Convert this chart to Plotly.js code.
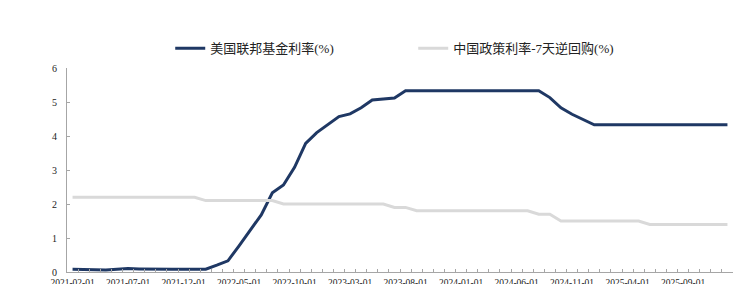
<!DOCTYPE html>
<html>
<head>
<meta charset="utf-8">
<script src="https://cdn.plot.ly/plotly-3.0.1.min.js"></script>
<style>html,body{margin:0;padding:0;background:#fff;}#chart{width:750px;height:284px;}</style>
</head>
<body>
<div id="chart"></div>
<script>
const dates = [
  '2021-02-01','2021-03-01','2021-04-01','2021-05-01','2021-06-01','2021-07-01','2021-08-01','2021-09-01','2021-10-01','2021-11-01','2021-12-01',
  '2022-01-01','2022-02-01','2022-03-01','2022-04-01','2022-05-01','2022-06-01','2022-07-01','2022-08-01','2022-09-01','2022-10-01','2022-11-01','2022-12-01',
  '2023-01-01','2023-02-01','2023-03-01','2023-04-01','2023-05-01','2023-06-01','2023-07-01','2023-08-01','2023-09-01','2023-10-01','2023-11-01','2023-12-01',
  '2024-01-01','2024-02-01','2024-03-01','2024-04-01','2024-05-01','2024-06-01','2024-07-01','2024-08-01','2024-09-01','2024-10-01','2024-11-01','2024-12-01',
  '2025-01-01','2025-02-01','2025-03-01','2025-04-01','2025-05-01','2025-06-01','2025-07-01','2025-08-01','2025-09-01','2025-10-01','2025-11-01','2025-12-01',
  '2026-01-01'
];
const fedFunds = [
  0.08,0.07,0.07,0.06,0.08,0.10,0.09,0.08,0.08,0.08,0.08,
  0.08,0.08,0.20,0.33,0.77,1.21,1.68,2.33,2.56,3.08,3.78,4.10,
  4.33,4.57,4.65,4.83,5.06,5.08,5.12,5.33,5.33,5.33,5.33,5.33,
  5.33,5.33,5.33,5.33,5.33,5.33,5.33,5.33,5.13,4.83,4.64,4.48,
  4.33,4.33,4.33,4.33,4.33,4.33,4.33,4.33,4.33,4.33,4.33,4.33,
  4.33
];
const chinaRepo = [
  2.2,2.2,2.2,2.2,2.2,2.2,2.2,2.2,2.2,2.2,2.2,
  2.2,2.1,2.1,2.1,2.1,2.1,2.1,2.1,2.0,2.0,2.0,2.0,
  2.0,2.0,2.0,2.0,2.0,2.0,1.9,1.9,1.8,1.8,1.8,1.8,
  1.8,1.8,1.8,1.8,1.8,1.8,1.8,1.7,1.7,1.5,1.5,1.5,
  1.5,1.5,1.5,1.5,1.5,1.4,1.4,1.4,1.4,1.4,1.4,1.4,
  1.4
];
const tickLabels = ['2021-02-01','2021-07-01','2021-12-01','2022-05-01','2022-10-01','2023-03-01','2023-08-01','2024-01-01','2024-06-01','2024-11-01','2025-04-01','2025-09-01'];
const seriesNames = ['美国联邦基金利率(%)','中国政策利率-7天逆回购(%)'];
const yTicks = [0,1,2,3,4,5,6];

const fontFam = '"Liberation Serif", "Times New Roman", "Noto Sans CJK SC", serif';

const traces = [
  {x: dates, y: fedFunds, name: seriesNames[0], type: 'scatter', mode: 'lines',
   line: {color: '#1f3864', width: 3}},
  {x: dates, y: chinaRepo, name: seriesNames[1], type: 'scatter', mode: 'lines',
   line: {color: '#d9d9d9', width: 3}}
];

const layout = {
  width: 750, height: 284,
  margin: {l: 67, r: 17, t: 68, b: 12},
  paper_bgcolor: '#fff', plot_bgcolor: '#fff',
  font: {family: fontFam, size: 9, color: '#222'},
  showlegend: true,
  legend: {orientation: 'h', x: 0.155, xanchor: 'left', y: 1.097, yanchor: 'middle',
           font: {family: fontFam, size: 13, color: '#222'},
           entrywidth: 198, entrywidthmode: 'pixels', bgcolor: 'rgba(0,0,0,0)'},
  xaxis: {
    type: 'category', range: [-0.5, dates.length - 0.5],
    tickmode: 'array', tickvals: dates,
    ticktext: dates.map(d => tickLabels.includes(d) ? d : ''),
    tickson: 'boundaries', ticks: 'inside', ticklen: 3, tickcolor: '#a6a6a6', tickwidth: 1,
    showline: true, linecolor: '#a6a6a6', linewidth: 1,
    showgrid: false, zeroline: false, tickangle: 0, ticklabelstandoff: 2,
    tickfont: {family: fontFam, size: 9.5, color: '#222'}
  },
  yaxis: {
    range: [0, 6], tickmode: 'array', tickvals: yTicks,
    ticks: 'inside', ticklen: 3, tickcolor: '#a6a6a6',
    showline: true, linecolor: '#a6a6a6', linewidth: 1,
    showgrid: false, zeroline: false, ticklabelstandoff: 7,
    tickfont: {family: fontFam, size: 10, color: '#222'}
  }
};

Plotly.newPlot('chart', traces, layout, {displayModeBar: false, staticPlot: true});
</script>
</body>
</html>
